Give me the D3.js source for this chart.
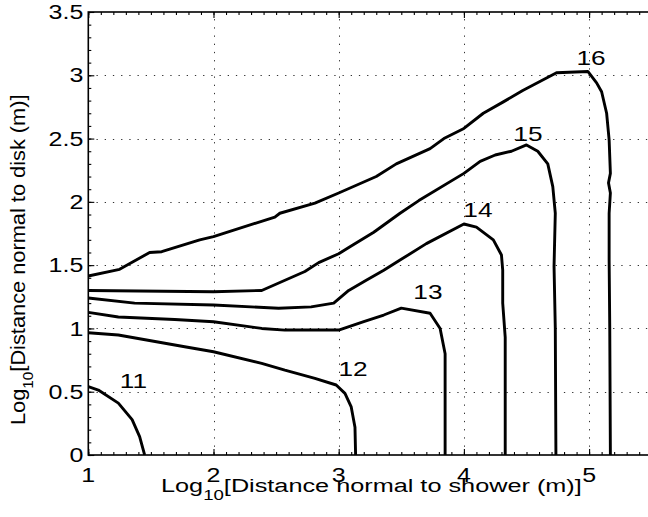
<!DOCTYPE html>
<html>
<head>
<meta charset="utf-8">
<script src="https://cdn.jsdelivr.net/npm/d3@7"></script>
<style>
  body { margin: 0; background: #fff; }
  svg { display: block; }
  text { font-family: "Liberation Sans", Arial, Helvetica, sans-serif; fill: #000; }
</style>
</head>
<body>
<svg id="chart" width="648" height="517"></svg>
<script>
// Contour levels and the traced iso-lines, in log10 metres
const levels = [11, 12, 13, 14, 15, 16];

const contour11 = [[1, 0.54], [1.08, 0.513], [1.24, 0.41], [1.35, 0.28], [1.41, 0.145], [1.45, 0]];

const contour12 = [[1, 0.966], [1.24, 0.948], [1.77, 0.855], [2.0, 0.816], [2.385, 0.724], [2.57, 0.67],
  [2.81, 0.606], [2.98, 0.553], [3.05, 0.487], [3.10, 0.38], [3.13, 0.22], [3.135, 0]];

const contour13 = [[1, 1.127], [1.24, 1.09], [1.69, 1.07], [2.0, 1.053], [2.385, 1.0], [2.57, 0.987],
  [3.0, 0.987], [3.20, 1.053], [3.36, 1.106], [3.50, 1.16], [3.73, 1.12], [3.81, 1.0], [3.85, 0.8], [3.85, 0]];

const contour14 = [[1, 1.24], [1.37, 1.2], [2.0, 1.185], [2.52, 1.16], [2.78, 1.17], [2.96, 1.2],
  [3.08, 1.3], [3.22, 1.38], [3.36, 1.46], [3.49, 1.54], [3.70, 1.67], [4.0, 1.825], [4.10, 1.8],
  [4.235, 1.7], [4.30, 1.58], [4.31, 1.46], [4.31, 1.2], [4.33, 0.93], [4.33, 0]];

const contour15 = [[1, 1.3], [2.0, 1.29], [2.385, 1.3], [2.73, 1.45], [2.84, 1.52], [3.0, 1.59],
  [3.09, 1.645], [3.28, 1.76], [3.49, 1.91], [3.64, 2.01], [4.0, 2.225], [4.13, 2.32], [4.25, 2.37],
  [4.38, 2.4], [4.50, 2.45], [4.59, 2.4], [4.67, 2.3], [4.71, 2.12], [4.73, 1.91], [4.72, 1.49],
  [4.73, 1.0], [4.735, 0]];

const contour16 = [[1, 1.414], [1.25, 1.467], [1.49, 1.6], [1.586, 1.606], [1.89, 1.7], [2.0, 1.725],
  [2.49, 1.88], [2.53, 1.91], [2.81, 1.99], [3.0, 2.07], [3.30, 2.2], [3.46, 2.3], [3.73, 2.42],
  [3.84, 2.5], [4.0, 2.58], [4.155, 2.7], [4.315, 2.79], [4.47, 2.88], [4.74, 3.02], [4.99, 3.03],
  [5.06, 2.94], [5.10, 2.87], [5.14, 2.7], [5.16, 2.49], [5.17, 2.225], [5.155, 2.15], [5.17, 2.07],
  [5.16, 1.91], [5.16, 1.54], [5.165, 1.0], [5.17, 0]];

// Where each level number is printed (x centre, y baseline)
const labelAnchors = [[1.36, 0.53], [3.114, 0.624], [3.713, 1.232], [4.112, 1.882], [4.512, 2.48], [5.015, 3.08]];

const xTicks = [1, 2, 3, 4, 5];
const xTickLabels = ["1", "2", "3", "4", "5"];
const yTicks = [0, 0.5, 1, 1.5, 2, 2.5, 3, 3.5];
const yTickLabels = ["0", "0.5", "1", "1.5", "2", "2.5", "3", "3.5"];

const contours = [contour11, contour12, contour13, contour14, contour15, contour16];

const svg = d3.select("#chart");
const x = d3.scaleLinear().domain([1, 5.5]).range([88.3, 651.7]);
const y = d3.scaleLinear().domain([0, 3.5]).range([455, 12]);
const [x0, x1] = x.range();
const [y0, y1] = y.range();
const SX = 1.25; // horizontal glyph stretch

svg.append("defs").append("clipPath").attr("id", "plot")
  .append("rect").attr("x", x0).attr("y", y1).attr("width", x1 - x0).attr("height", y0 - y1);

// dotted grid
const grid = svg.append("g").attr("stroke", "#333").attr("stroke-width", 1).attr("stroke-dasharray", "1.3 6.9");
grid.selectAll("line.gx").data(xTicks.filter(d => d > 1)).join("line")
  .attr("x1", d => Math.round(x(d)) + 0.5).attr("x2", d => Math.round(x(d)) + 0.5)
  .attr("y1", y0).attr("y2", y1);
grid.selectAll("line.gy").data(yTicks.filter(d => d > 0 && d < 3.5)).join("line")
  .attr("y1", d => Math.round(y(d)) + 0.5).attr("y2", d => Math.round(y(d)) + 0.5)
  .attr("x1", x0).attr("x2", x1);

// contour lines
const line = d3.line().x(d => x(d[0])).y(d => y(d[1]));
svg.append("g").attr("clip-path", "url(#plot)")
  .selectAll("path").data(contours).join("path")
  .attr("d", line)
  .attr("fill", "none").attr("stroke", "#000").attr("stroke-width", 2.9)
  .attr("stroke-linejoin", "round").attr("stroke-linecap", "butt");

// level numbers
svg.append("g").selectAll("text").data(levels).join("text")
  .attr("transform", (d, i) => `translate(${x(labelAnchors[i][0])},${y(labelAnchors[i][1])}) scale(${SX},1)`)
  .attr("text-anchor", "middle").attr("font-size", 21)
  .text(d => d);

// axes with inward ticks, major and minor
const minorX = d3.range(10, 56).map(d => d / 10);
const minorY = d3.range(0, 36).map(d => d / 10);
const ax = svg.append("g").attr("stroke", "#000").attr("stroke-width", 1);
ax.append("g").attr("transform", `translate(0,${y0})`)
  .call(d3.axisBottom(x).tickValues(minorX).tickSize(-3).tickFormat(""));
ax.append("g").attr("transform", `translate(0,${y0})`)
  .call(d3.axisBottom(x).tickValues(xTicks).tickSize(-6).tickFormat(""));
ax.append("g").attr("transform", `translate(0,${y1})`)
  .call(d3.axisTop(x).tickValues(minorX).tickSize(-3).tickFormat(""));
ax.append("g").attr("transform", `translate(0,${y1})`)
  .call(d3.axisTop(x).tickValues(xTicks).tickSize(-6).tickFormat(""));
ax.append("g").attr("transform", `translate(${x0},0)`)
  .call(d3.axisLeft(y).tickValues(minorY).tickSize(-3).tickFormat(""));
ax.append("g").attr("transform", `translate(${x0},0)`)
  .call(d3.axisLeft(y).tickValues(yTicks).tickSize(-6).tickFormat(""));
svg.selectAll(".domain").remove();
svg.selectAll(".tick line").attr("stroke", "#000").attr("stroke-width", 1.1);

// frame (right side sits past the page edge)
svg.append("rect").attr("x", x0).attr("y", y1).attr("width", x1 - x0).attr("height", y0 - y1)
  .attr("fill", "none").attr("stroke", "#000").attr("stroke-width", 1.6);

// tick labels
svg.append("g").selectAll("text").data(xTicks).join("text")
  .attr("transform", d => `translate(${x(d)},${y0 + 27}) scale(${SX},1)`)
  .attr("text-anchor", "middle").attr("font-size", 20)
  .text((d, i) => xTickLabels[i]);
svg.append("g").selectAll("text").data(yTicks).join("text")
  .attr("transform", d => `translate(${x0 - 5},${y(d) + 7.2}) scale(${SX},1)`)
  .attr("text-anchor", "end").attr("font-size", 20)
  .text((d, i) => yTickLabels[i]);

// axis titles
function title(g, rest) {
  g.append("tspan").text("Log");
  g.append("tspan").attr("font-size", 14).attr("dy", 8).text("10");
  g.append("tspan").attr("dy", -8).text(rest);
}
const xt = svg.append("text").attr("font-size", 19)
  .attr("transform", `translate(161,492) scale(1.33,1)`);
title(xt, "[Distance normal to shower (m)]");

const yt = svg.append("text").attr("font-size", 20)
  .attr("transform", `translate(25,425) rotate(-90) scale(1.09,1)`);
title(yt, "[Distance normal to disk (m)]");
</script>
</body>
</html>
